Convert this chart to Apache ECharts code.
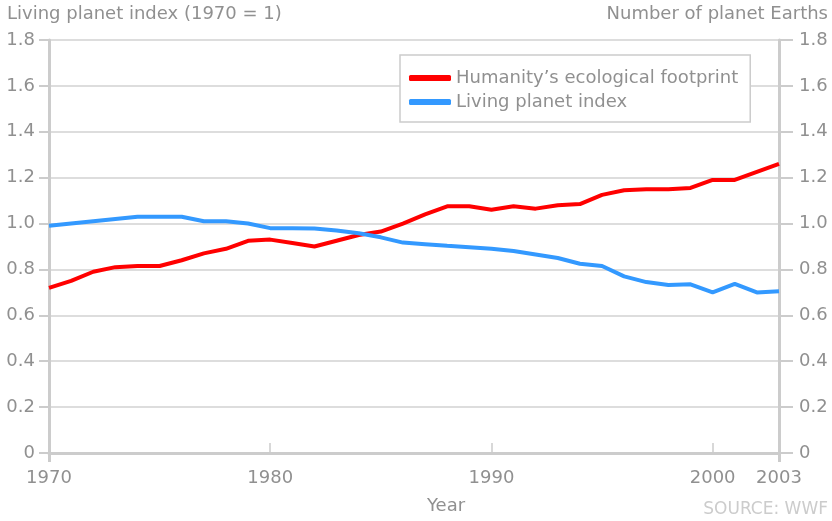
<!DOCTYPE html>
<html>
<head>
<meta charset="utf-8">
<script src="https://cdn.jsdelivr.net/npm/echarts@6/dist/echarts.min.js"></script>
<style>html,body{margin:0;padding:0;background:#fff}#c{width:832px;height:521px}</style>
</head>
<body>
<div id="c"></div>
<script>
const years = [1970,1971,1972,1973,1974,1975,1976,1977,1978,1979,1980,1981,1982,1983,1984,1985,1986,1987,1988,1989,1990,1991,1992,1993,1994,1995,1996,1997,1998,1999,2000,2001,2002,2003];
const footprint = [0.72,0.75,0.79,0.81,0.815,0.815,0.84,0.87,0.89,0.925,0.93,0.915,0.90,0.925,0.95,0.965,1.00,1.04,1.075,1.075,1.06,1.075,1.065,1.08,1.085,1.125,1.145,1.15,1.15,1.155,1.19,1.19,1.225,1.26];
const livingIndex = [0.99,1.00,1.01,1.02,1.03,1.03,1.03,1.01,1.01,1.00,0.98,0.98,0.978,0.97,0.958,0.94,0.917,0.91,0.903,0.897,0.89,0.88,0.865,0.85,0.825,0.815,0.77,0.745,0.732,0.735,0.70,0.737,0.70,0.705];
const xLabelValues = [1970,1980,1990,2000,2003];
const xTickValues = [1980,1990,2000];
const seriesNames = ['Humanity\u2019s ecological footprint','Living planet index'];

const font = 'DejaVu Sans';
const grey = '#909090';
const chart = echarts.init(document.getElementById('c'));
const pairs = arr => years.map((y,i)=>[y,arr[i]]);

const yAxisCommon = {
  type:'value', min:0, max:1.8, interval:0.2,
  axisLine:{show:true, lineStyle:{color:'#cccccc', width:3}},
  splitLine:{show:true, lineStyle:{color:'#dddddd', width:2}}
};
const yLabel = m => ({color:grey, fontFamily:font, fontSize:18, margin:m,
    formatter: v => v===0 ? '0' : v.toFixed(1)});

chart.setOption({
  animation:false,
  textStyle:{fontFamily:font},
  title:[
    {text:'Living planet index (1970 = 1)', left:7, top:5, textStyle:{color:grey, fontFamily:font, fontSize:18, fontWeight:'normal'}, padding:0},
    {text:'Number of planet Earths', right:4, top:5, textStyle:{color:grey, fontFamily:font, fontSize:18, fontWeight:'normal'}, padding:0},
    {text:'Year', left:427, top:497, textStyle:{color:grey, fontFamily:font, fontSize:18, fontWeight:'normal'}, padding:0},
    {text:'SOURCE: WWF', right:4, top:501, textStyle:{color:'#cccccc', fontFamily:font, fontSize:17, fontWeight:'normal'}, padding:0}
  ],
  legend:{
    orient:'vertical', left:400, top:55,
    padding:[14,12,11,9], itemGap:6,
    backgroundColor:'#fff', borderColor:'#cccccc', borderWidth:1.5,
    itemWidth:42, itemHeight:6, icon:'roundRect',
    textStyle:{color:grey, fontFamily:font, fontSize:18, lineHeight:18},
    data:seriesNames
  },
  grid:{left:49, right:53, top:40, bottom:68, containLabel:false},
  xAxis:[{
    type:'value', min:1970, max:2003, interval:10,
    axisLine:{show:true, lineStyle:{color:'#cccccc', width:3}},
    axisTick:{show:true, inside:true, length:10, customValues:xTickValues, lineStyle:{color:'#cccccc', width:1.5}},
    splitLine:{show:false},
    axisLabel:{color:grey, fontFamily:font, fontSize:18, margin:16, customValues:xLabelValues,
      formatter: v => String(v)}
  },{
    type:'value', min:1970, max:2003, position:'bottom',
    axisLine:{show:false},
    axisTick:{show:true, inside:false, length:9, customValues:[1970,2003], lineStyle:{color:'#cccccc', width:3}},
    splitLine:{show:false},
    axisLabel:{show:false}
  }],
  yAxis:[
    Object.assign({}, yAxisCommon, {position:'left', axisTick:{show:true, length:10, lineStyle:{color:'#cccccc', width:2}}, axisLabel:yLabel(14)}),
    Object.assign({}, yAxisCommon, {position:'right', splitLine:{show:false}, axisTick:{show:true, length:14, lineStyle:{color:'#cccccc', width:2}}, axisLabel:yLabel(20)})
  ],
  series:[
    {name:seriesNames[0], type:'line', data:pairs(footprint), showSymbol:false, symbol:'none', color:'#ff0000', lineStyle:{width:4, color:'#ff0000'}, z:3},
    {name:seriesNames[1], type:'line', data:pairs(livingIndex), showSymbol:false, symbol:'none', color:'#3399ff', lineStyle:{width:4, color:'#3399ff'}, z:3}
  ]
});
</script>
</body>
</html>
